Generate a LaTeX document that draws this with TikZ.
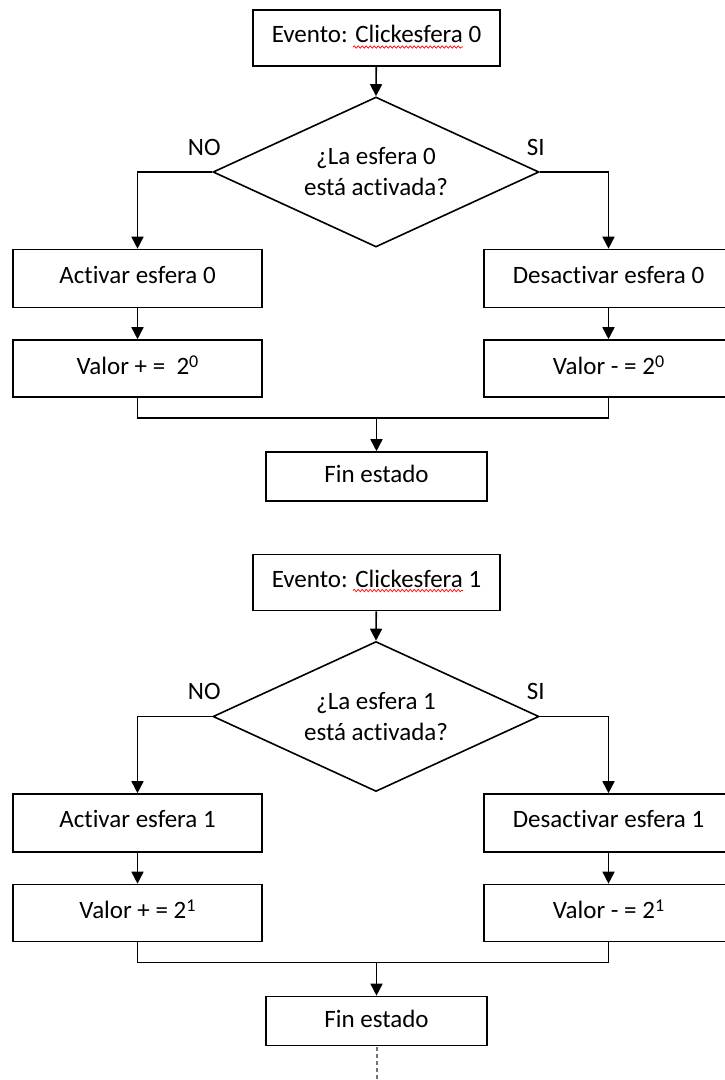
\documentclass[tikz,border=0pt]{standalone}
\usepackage{fontspec}
\setmainfont[Ligatures=NoCommon]{Carlito}
\usetikzlibrary{shapes.geometric,arrows.meta,calc,decorations.pathmorphing}
% raised exponent, a little larger than \textsuperscript
\newcommand\expo[1]{\raisebox{7pt}{\fontsize{18}{18}\selectfont #1}}
\begin{document}
\begin{tikzpicture}[x=1pt,y=-1pt,
  every node/.style={font=\fontsize{25}{31}\selectfont},
  frame/.style={draw, line width=1.6pt, inner sep=0pt, text height=16pt, text depth=7pt},
  evbox/.style={frame, minimum width=247pt, minimum height=56pt},
  actbox/.style={frame, minimum width=249pt, minimum height=58pt},
  valbox/.style={frame, minimum width=249pt, minimum height=57pt, text depth=5pt},
  finbox/.style={frame, minimum width=221pt, minimum height=49pt, text depth=4pt},
  question/.style={draw, diamond, line width=1.6pt, inner sep=0pt, aspect=2.17,
    minimum width=326pt, minimum height=150pt, align=center},
  lbl/.style={inner sep=0pt},
  link/.style={line width=1.6pt},
  arr/.style={link, -{Triangle[width=12pt,length=12pt]}},
  spell/.style={red, line width=0.7pt, decorate,
    decoration={snake, amplitude=1.2pt, segment length=4pt}},
  cont/.style={black!55, line width=2pt, dash pattern=on 4pt off 3pt, dash phase=-8pt}
]
\useasboundingbox (0,0) rectangle (724,1080);

% ---------- sphere 0 ----------
\node[evbox] (ev0) at (376.5,38) {Evento: Clickesfera 0};
\node[question] (d0) at (376,172) {¿La esfera 0\\está activada?};
\node[actbox] (a0) at (137.5,278.5) {Activar esfera 0};
\node[valbox] (v0) at (137.5,368.5) {Valor + =\ \ 2\expo{0}};
\node[actbox] (b0) at (608.5,278.5) {Desactivar esfera 0};
\node[valbox] (w0) at (608.5,368.5) {Valor - = 2\expo{0}};
\node[finbox] (f0) at (376.5,476.5) {Fin estado};
\node[lbl] (no0) at ($(d0.west)+(-8,-25)$) {NO};
\node[lbl] (si0) at ($(d0.east)+(-4,-25)$) {SI};
\coordinate (j0) at (376.5,418);

\draw[spell] ($(ev0.center)+(-23.5,9)$) -- ($(ev0.center)+(86.5,9)$);
\draw[arr] (ev0) -- (d0.north);
\draw[arr] (d0.west) -| (a0.north);
\draw[arr] (d0.east) -| (b0.north);
\draw[arr] (a0) -- (v0);
\draw[arr] (b0) -- (w0);
\draw[link] (v0.south) |- (j0) -| (w0.south);
\draw[arr] (j0) -- (f0);

% ---------- sphere 1 ----------
\node[evbox] (ev1) at (376.5,582.5) {Evento: Clickesfera 1};
\node[question] (d1) at (376,716.5) {¿La esfera 1\\está activada?};
\node[actbox] (a1) at (137.5,823) {Activar esfera 1};
\node[valbox] (v1) at (137.5,913) {Valor + = 2\expo{1}};
\node[actbox] (b1) at (608.5,823) {Desactivar esfera 1};
\node[valbox] (w1) at (608.5,913) {Valor - = 2\expo{1}};
\node[finbox] (f1) at (376.5,1021) {Fin estado};
\node[lbl] (no1) at ($(d1.west)+(-8,-25)$) {NO};
\node[lbl] (si1) at ($(d1.east)+(-4,-25)$) {SI};
\coordinate (j1) at (376.5,962.5);
\coordinate (end1) at (376.5,1082);

\draw[spell] ($(ev1.center)+(-23.5,8)$) -- ($(ev1.center)+(86.5,8)$);
\draw[arr] (ev1) -- (d1.north);
\draw[arr] (d1.west) -| (a1.north);
\draw[arr] (d1.east) -| (b1.north);
\draw[arr] (a1) -- (v1);
\draw[arr] (b1) -- (w1);
\draw[link] (v1.south) |- (j1) -| (w1.south);
\draw[arr] (j1) -- (f1);
\draw[cont] (f1.south) -- (end1);
\end{tikzpicture}
\end{document}
